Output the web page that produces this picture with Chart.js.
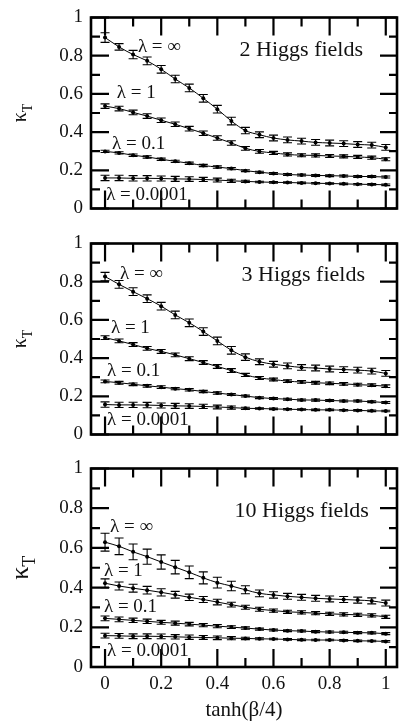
<!DOCTYPE html>
<html lang="en">
<head>
<meta charset="UTF-8">
<title>kappa_T vs tanh(beta/4)</title>
<style>
  body { margin: 0; background: #fff; }
  #wrap { position: relative; width: 401px; height: 723px; }
  canvas { position: absolute; left: 0; }
</style>
</head>
<body>
<div id="wrap">
  <canvas id="c1" width="401" height="226" style="top:0px"></canvas>
  <canvas id="c2" width="401" height="226" style="top:226px"></canvas>
  <canvas id="c3" width="401" height="272" style="top:451px"></canvas>
</div>
<script src="https://cdn.jsdelivr.net/npm/chart.js"></script>
<script>
// ---- data ----
const xVals = [0, 0.05, 0.1, 0.15, 0.2, 0.25, 0.3, 0.35, 0.4, 0.45, 0.5, 0.55, 0.6, 0.65, 0.7, 0.75, 0.8, 0.85, 0.9, 0.95, 1];
const yTickVals = [0, 0.2, 0.4, 0.6, 0.8, 1];
const xTickVals = [0, 0.2, 0.4, 0.6, 0.8, 1];
const lambdaNames = ['λ = ∞', 'λ = 1', 'λ = 0.1', 'λ = 0.0001'];
const panelTitles = ['2 Higgs fields', '3 Higgs fields', '10 Higgs fields'];
const xTitle = 'tanh(β/4)';

// 2 Higgs fields
const kInf2   = [0.895, 0.846, 0.806, 0.773, 0.729, 0.678, 0.631, 0.577, 0.520, 0.458, 0.408, 0.386, 0.369, 0.359, 0.353, 0.346, 0.343, 0.340, 0.335, 0.332, 0.320];
const kOne2   = [0.536, 0.523, 0.503, 0.484, 0.462, 0.441, 0.418, 0.394, 0.369, 0.343, 0.315, 0.299, 0.291, 0.283, 0.279, 0.278, 0.275, 0.273, 0.270, 0.266, 0.258];
const kTenth2 = [0.299, 0.291, 0.279, 0.270, 0.258, 0.247, 0.237, 0.225, 0.217, 0.209, 0.198, 0.190, 0.183, 0.178, 0.175, 0.173, 0.172, 0.170, 0.168, 0.167, 0.165];
const kTiny2  = [0.160, 0.160, 0.158, 0.158, 0.157, 0.155, 0.154, 0.152, 0.149, 0.145, 0.142, 0.139, 0.137, 0.136, 0.134, 0.132, 0.131, 0.129, 0.127, 0.126, 0.124];
const eInf2   = [0.025, 0.017, 0.022, 0.02, 0.02, 0.02, 0.02, 0.02, 0.02, 0.02, 0.017, 0.015, 0.015, 0.015, 0.015, 0.015, 0.015, 0.015, 0.015, 0.015, 0.015];
const eOne2   = [0.012, 0.012, 0.012, 0.012, 0.012, 0.012, 0.012, 0.012, 0.012, 0.012, 0.01, 0.01, 0.008, 0.008, 0.008, 0.008, 0.008, 0.008, 0.008, 0.008, 0.008];
const eTenth2 = [0.006, 0.006, 0.006, 0.006, 0.006, 0.006, 0.006, 0.006, 0.006, 0.006, 0.005, 0.005, 0.005, 0.005, 0.005, 0.005, 0.005, 0.005, 0.005, 0.005, 0.005];
const eTiny2  = [0.014, 0.014, 0.014, 0.014, 0.013, 0.013, 0.012, 0.011, 0.01, 0.008, 0.006, 0.004, 0.004, 0.004, 0.004, 0.004, 0.004, 0.004, 0.004, 0.004, 0.004];

// 3 Higgs fields
const kInf3   = [0.827, 0.786, 0.748, 0.711, 0.672, 0.626, 0.585, 0.539, 0.490, 0.441, 0.405, 0.381, 0.368, 0.359, 0.351, 0.348, 0.343, 0.340, 0.337, 0.332, 0.320];
const kOne3   = [0.507, 0.490, 0.471, 0.451, 0.435, 0.417, 0.397, 0.377, 0.356, 0.335, 0.312, 0.296, 0.288, 0.279, 0.275, 0.271, 0.268, 0.265, 0.261, 0.258, 0.253];
const kTenth3 = [0.278, 0.271, 0.263, 0.255, 0.248, 0.240, 0.234, 0.225, 0.217, 0.209, 0.201, 0.193, 0.188, 0.185, 0.181, 0.180, 0.178, 0.176, 0.175, 0.172, 0.167];
const kTiny3  = [0.157, 0.155, 0.155, 0.154, 0.152, 0.150, 0.149, 0.147, 0.144, 0.141, 0.137, 0.136, 0.134, 0.132, 0.131, 0.129, 0.129, 0.127, 0.126, 0.124, 0.123];
const eInf3   = [0.022, 0.02, 0.02, 0.02, 0.02, 0.02, 0.02, 0.02, 0.02, 0.02, 0.017, 0.015, 0.015, 0.015, 0.015, 0.015, 0.015, 0.015, 0.015, 0.015, 0.015];
const eOne3   = [0.01, 0.01, 0.01, 0.01, 0.01, 0.01, 0.01, 0.01, 0.01, 0.01, 0.008, 0.008, 0.007, 0.007, 0.007, 0.007, 0.007, 0.007, 0.007, 0.007, 0.007];
const eTenth3 = [0.007, 0.007, 0.007, 0.007, 0.007, 0.006, 0.006, 0.006, 0.006, 0.005, 0.005, 0.005, 0.005, 0.005, 0.005, 0.005, 0.005, 0.005, 0.005, 0.005, 0.005];
const eTiny3  = [0.014, 0.014, 0.014, 0.014, 0.013, 0.013, 0.012, 0.011, 0.01, 0.008, 0.006, 0.004, 0.004, 0.004, 0.004, 0.004, 0.004, 0.004, 0.004, 0.004, 0.004];

// 10 Higgs fields
const kInf10   = [0.629, 0.608, 0.580, 0.556, 0.529, 0.503, 0.477, 0.449, 0.425, 0.408, 0.389, 0.371, 0.363, 0.356, 0.351, 0.346, 0.343, 0.340, 0.337, 0.333, 0.322];
const kOne10   = [0.422, 0.408, 0.397, 0.387, 0.376, 0.364, 0.351, 0.340, 0.327, 0.314, 0.301, 0.291, 0.284, 0.278, 0.275, 0.271, 0.268, 0.265, 0.263, 0.260, 0.253];
const kTenth10 = [0.245, 0.240, 0.235, 0.230, 0.225, 0.221, 0.216, 0.211, 0.206, 0.201, 0.196, 0.191, 0.186, 0.183, 0.181, 0.178, 0.176, 0.175, 0.173, 0.172, 0.168];
const kTiny10  = [0.158, 0.157, 0.155, 0.155, 0.154, 0.152, 0.150, 0.149, 0.147, 0.145, 0.144, 0.142, 0.141, 0.139, 0.137, 0.136, 0.136, 0.134, 0.132, 0.131, 0.129];
const eInf10   = [0.045, 0.042, 0.04, 0.038, 0.036, 0.034, 0.032, 0.03, 0.027, 0.024, 0.02, 0.017, 0.016, 0.015, 0.015, 0.015, 0.015, 0.015, 0.015, 0.015, 0.015];
const eOne10   = [0.022, 0.02, 0.02, 0.019, 0.018, 0.017, 0.016, 0.015, 0.014, 0.012, 0.01, 0.01, 0.008, 0.008, 0.008, 0.008, 0.008, 0.008, 0.008, 0.008, 0.008];
const eTenth10 = [0.012, 0.012, 0.011, 0.011, 0.01, 0.01, 0.009, 0.008, 0.008, 0.007, 0.006, 0.005, 0.005, 0.005, 0.005, 0.005, 0.005, 0.005, 0.005, 0.005, 0.005];
const eTiny10  = [0.012, 0.012, 0.012, 0.012, 0.012, 0.011, 0.011, 0.01, 0.009, 0.008, 0.006, 0.005, 0.004, 0.004, 0.004, 0.004, 0.004, 0.004, 0.004, 0.004, 0.004];

// ---- layout (label anchors in data units) ----
const lamPos2  = [[0.117, 0.848], [0.042, 0.603], [0.025, 0.338], [0.004, 0.069]];
const lamPos3  = [[0.053, 0.842], [0.021, 0.560], [0.007, 0.332], [0.007, 0.078]];
const lamPos10 = [[0.018, 0.707], [-0.004, 0.484], [-0.004, 0.300], [0.007, 0.083]];
const titlePos = [[0.919, 0.828], [0.926, 0.832], [0.94, 0.786]];

const SERIF = '"Liberation Serif", "DejaVu Serif", serif';
const INK = '#111';

const panels = [
  { id: 'c1', series: [kInf2, kOne2, kTenth2, kTiny2], errs: [eInf2, eOne2, eTenth2, eTiny2], lam: lamPos2, showX: false, kSize: 20 },
  { id: 'c2', series: [kInf3, kOne3, kTenth3, kTiny3], errs: [eInf3, eOne3, eTenth3, eTiny3], lam: lamPos3, showX: false, kSize: 20 },
  { id: 'c3', series: [kInf10, kOne10, kTenth10, kTiny10], errs: [eInf10, eOne10, eTenth10, eTiny10], lam: lamPos10, showX: true, kSize: 26 }
];

function makeDecor(p, idx) {
  return {
    id: 'decor' + idx,
    afterDatasetsDraw(chart) {
      const { ctx, chartArea: a, scales: { x, y } } = chart;
      ctx.save();
      ctx.strokeStyle = '#000';
      ctx.lineWidth = 1.1;
      // error bars
      p.series.forEach((vals, i) => {
        vals.forEach((v, j) => {
          const e = p.errs[i][j];
          const px = x.getPixelForValue(xVals[j]);
          const y1 = y.getPixelForValue(v - e), y2 = y.getPixelForValue(v + e);
          ctx.beginPath();
          ctx.moveTo(px, y1); ctx.lineTo(px, y2);
          ctx.moveTo(px - 4.5, y1); ctx.lineTo(px + 4.5, y1);
          ctx.moveTo(px - 4.5, y2); ctx.lineTo(px + 4.5, y2);
          ctx.stroke();
        });
      });

      // inward tick marks on all four sides
      ctx.lineWidth = 2.2;
      ctx.beginPath();
      for (let k = 0; k <= 10; k++) {
        const major = k % 2 === 0;
        const py = y.getPixelForValue(k / 10);
        ctx.moveTo(a.left, py); ctx.lineTo(a.left + (major ? 18 : 9), py);
        ctx.moveTo(a.right, py); ctx.lineTo(a.right - (major ? 17 : 8), py);
        const px = x.getPixelForValue(k / 10);
        ctx.moveTo(px, a.top); ctx.lineTo(px, a.top + (major ? 18 : 9));
        ctx.moveTo(px, a.bottom); ctx.lineTo(px, a.bottom - (major ? 18 : 9));
      }
      ctx.stroke();

      // frame
      ctx.lineWidth = 2.6;
      ctx.strokeRect(a.left, a.top, a.right - a.left, a.bottom - a.top);

      // curve labels
      ctx.fillStyle = INK;
      ctx.font = '19px ' + SERIF;
      ctx.textAlign = 'left';
      ctx.textBaseline = 'middle';
      p.lam.forEach((pos, i) => {
        ctx.fillText(lambdaNames[i], x.getPixelForValue(pos[0]), y.getPixelForValue(pos[1]));
      });
      ctx.font = '22px ' + SERIF;
      ctx.textAlign = 'right';
      ctx.fillText(panelTitles[idx], x.getPixelForValue(titlePos[idx][0]), y.getPixelForValue(titlePos[idx][1]));

      // y axis title: kappa with subscript T
      const s = p.kSize;
      const cy = (a.top + a.bottom) / 2;
      ctx.translate(22, cy);
      ctx.rotate(-Math.PI / 2);
      ctx.textAlign = 'left';
      ctx.textBaseline = 'alphabetic';
      ctx.font = s + 'px ' + SERIF;
      const wk = ctx.measureText('κ').width;
      ctx.font = Math.round(s * 0.68) + 'px ' + SERIF;
      const wt = ctx.measureText('T').width;
      const x0 = -(wk + wt) / 2;
      ctx.font = s + 'px ' + SERIF;
      ctx.fillText('κ', x0, s * 0.22);
      ctx.font = Math.round(s * 0.68) + 'px ' + SERIF;
      ctx.fillText('T', x0 + wk, s * 0.22 + s * 0.28);
      ctx.restore();
    }
  };
}

panels.forEach((p, idx) => {
  const colors = '#000';
  const datasets = p.series.map((vals, i) => ({
    label: lambdaNames[i],
    data: vals.map((v, j) => ({ x: xVals[j], y: v })),
    borderColor: colors,
    borderWidth: 1,
    backgroundColor: colors,
    pointRadius: 2,
    pointBorderWidth: 0,
    pointBackgroundColor: colors,
    cubicInterpolationMode: 'monotone'
  }));

  new Chart(document.getElementById(p.id).getContext('2d'), {
    type: 'line',
    data: { datasets },
    plugins: [makeDecor(p, idx)],
    options: {
      responsive: false,
      animation: false,
      devicePixelRatio: 1,
      layout: { padding: { top: 11, left: 0, right: 2, bottom: 0 } },
      plugins: { legend: { display: false }, tooltip: { enabled: false } },
      scales: {
        x: {
          type: 'linear',
          min: -0.05,
          max: 1.04,
          grid: { display: false, drawTicks: false },
          border: { display: false },
          afterBuildTicks: (sc) => { sc.ticks = xTickVals.map(v => ({ value: v })); },
          afterFit: (sc) => { sc.height = p.showX ? 56 : 10; },
          ticks: {
            display: p.showX,
            padding: 8,
            color: INK,
            maxRotation: 0,
            font: { family: SERIF, size: 19, lineHeight: 1 },
            callback: (v) => String(v)
          },
          title: {
            display: p.showX,
            text: xTitle,
            color: INK,
            padding: { top: 0, bottom: 0 },
            font: { family: SERIF, size: 21 }
          }
        },
        y: {
          min: 0,
          max: 1,
          grid: { display: false, drawTicks: false },
          border: { display: false },
          afterBuildTicks: (sc) => { sc.ticks = yTickVals.map(v => ({ value: v })); },
          afterFit: (sc) => { sc.width = 91; },
          ticks: {
            padding: 8,
            color: INK,
            font: { family: SERIF, size: 19, lineHeight: 1 },
            callback: (v) => String(v)
          }
        }
      }
    }
  });
});
</script>
</body>
</html>
